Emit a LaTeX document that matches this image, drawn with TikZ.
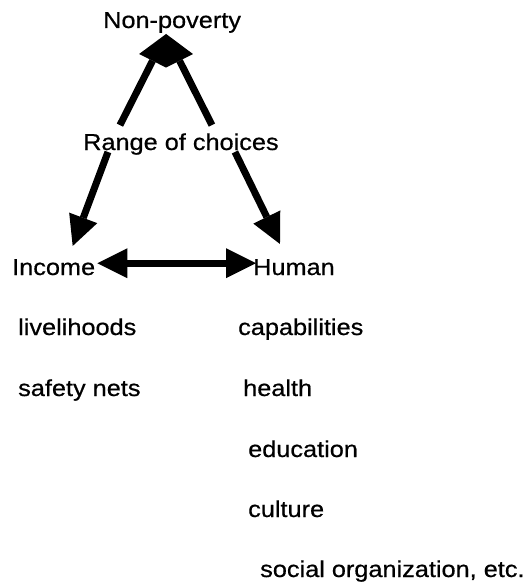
\documentclass[tikz,border=0pt]{standalone}
\usepackage{fontspec}
\setmainfont{Liberation Sans}[FakeStretch=1.1,FakeBold=0.6]
\usetikzlibrary{arrows.meta,positioning,calc}

\begin{document}
\begin{tikzpicture}[
  x=1pt, y=-1pt,
  label/.style={
    anchor=base west, inner sep=0pt, text=black,
    font=\fontsize{23}{27}\selectfont
  },
  arr/.style={-{Triangle[length=30pt,width=30pt,line width=0pt]}, line width=7pt, color=black},
  biarr/.style={{Triangle[length=30pt,width=30pt,line width=0pt]}-{Triangle[length=30pt,width=30pt,line width=0pt]}, line width=7pt, color=black},
]
  \useasboundingbox (0,0) rectangle (531,586);

  % Main labels
  \node[label] (nonpov) at (103,28) {Non-poverty};
  \node[label] (range) at (83,150) {Range of choices};
  \node[label] (income) at (12,275) {Income};
  \node[label] (human) at (253,275) {Human};

  % Lists
  \node[label] (liveli) at (18,335) {livelihoods};
  \node[label] (safety) at (18,396) {safety nets};
  \node[label] (capab) at (238,335) {capabilities};
  \node[label] (health) at (243,396) {health};
  \node[label] (educ) at (248,457) {education};
  \node[label] (cult) at (248,517) {culture};
  \node[label] (social) at (260,577) {social organization, etc.};

  % Arrows
  \coordinate (peak) at ([xshift=-6pt,yshift=-1pt]nonpov.south);
  \draw[arr] ([xshift=-61pt,yshift=8pt]range.north) -- (peak);
  \draw[arr] ([xshift=31pt,yshift=8pt]range.north) -- (peak);
  \draw[arr] ([xshift=-73pt,yshift=3pt]range.south) -- ([xshift=19pt,yshift=13pt]income.north);
  \draw[arr] ([xshift=54pt,yshift=3pt]range.south) -- ([xshift=-14pt,yshift=15pt]human.north);
  \draw[biarr] ([xshift=2pt,yshift=4pt]income.east) -- ([xshift=3pt,yshift=4pt]human.west);
\end{tikzpicture}
\end{document}
